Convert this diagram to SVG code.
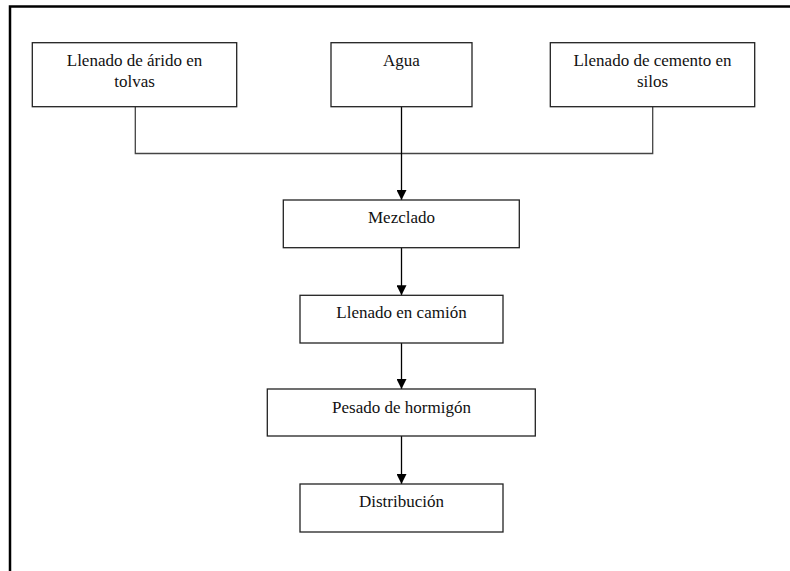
<svg xmlns="http://www.w3.org/2000/svg" width="790" height="571" viewBox="0 0 790 571">
<defs>
<style>
.box{fill:#fff;stroke:#222;stroke-width:1.3}
.t{font-family:"Liberation Serif","Times New Roman",serif;font-size:17px;fill:#111;text-anchor:middle}
.c{fill:none;stroke:#444;stroke-width:1.3}
.a{fill:none;stroke:#000;stroke-width:1.3}
</style>
<marker id="arr" markerWidth="10" markerHeight="10" refX="10" refY="5" orient="auto" markerUnits="userSpaceOnUse">
<path d="M0,0 L10,5 L0,10 Z" fill="#000"/>
</marker>
</defs>
<rect width="790" height="571" fill="#fff"/>
<path d="M10,571 V6.5 H790" fill="none" stroke="#000" stroke-width="2.5"/>
<g id="connectors">
<path class="c" d="M135.3,106.7 V153.5 H652.7 V106.7"/>
<line class="a" x1="401.5" y1="106.7" x2="401.5" y2="200" marker-end="url(#arr)"/>
<line class="a" x1="401.5" y1="247.7" x2="401.5" y2="295.3" marker-end="url(#arr)"/>
<line class="a" x1="401.5" y1="343" x2="401.5" y2="389" marker-end="url(#arr)"/>
<line class="a" x1="401.5" y1="436" x2="401.5" y2="484" marker-end="url(#arr)"/>
</g>
<g id="arido">
<rect class="box" x="32.3" y="42.7" width="204.4" height="64"/>
<text class="t" x="134.5" y="66">Llenado de árido en</text>
<text class="t" x="134.5" y="86.5">tolvas</text>
</g>
<g id="agua">
<rect class="box" x="331" y="42.7" width="141" height="64"/>
<text class="t" x="401.5" y="66">Agua</text>
</g>
<g id="cemento">
<rect class="box" x="550.3" y="42.7" width="204.4" height="64"/>
<text class="t" x="652.5" y="66">Llenado de cemento en</text>
<text class="t" x="652.5" y="86.5">silos</text>
</g>
<g id="mezclado">
<rect class="box" x="283.3" y="200" width="236" height="47.7"/>
<text class="t" x="401.5" y="223">Mezclado</text>
</g>
<g id="camion">
<rect class="box" x="300" y="295.3" width="203" height="47.7"/>
<text class="t" x="401.5" y="318">Llenado en camión</text>
</g>
<g id="pesado">
<rect class="box" x="267.3" y="389" width="268" height="47"/>
<text class="t" x="401.5" y="413">Pesado de hormigón</text>
</g>
<g id="distribucion">
<rect class="box" x="300" y="484" width="203" height="48"/>
<text class="t" x="401.5" y="507">Distribución</text>
</g>
</svg>
